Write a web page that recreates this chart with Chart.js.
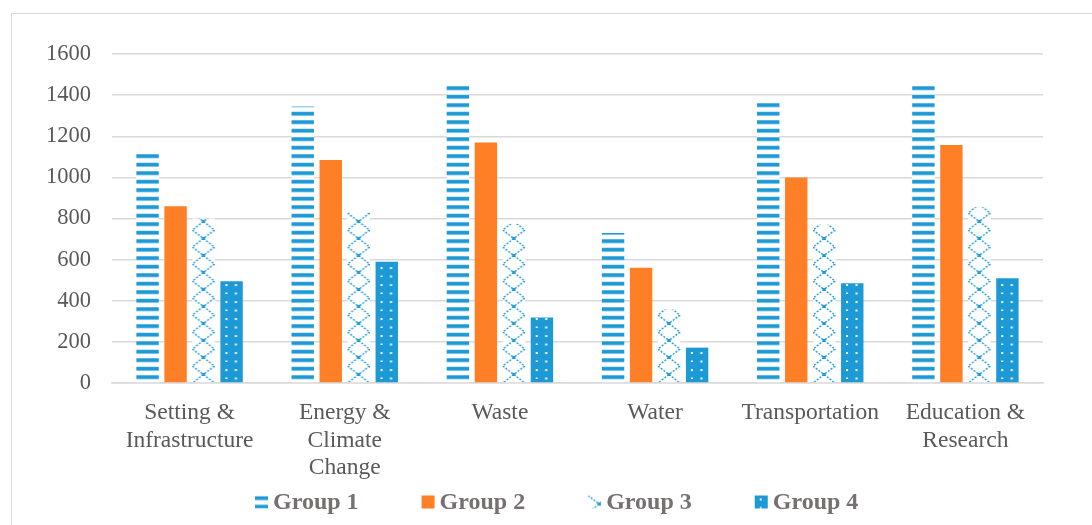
<!DOCTYPE html>
<html>
<head>
<meta charset="utf-8">
<script src="https://cdn.jsdelivr.net/npm/chart.js@4.4.1/dist/chart.umd.min.js"></script>
<style>
  html, body { margin: 0; padding: 0; background: #fff; overflow: hidden; }
  #wrap { position: relative; width: 1092px; height: 525px; }
  #frame { position: absolute; left: 11px; top: 13px; width: 1200px; height: 700px;
           border: 1.5px solid #d9d9d9; box-sizing: border-box; pointer-events: none; }
  canvas { position: absolute; left: 0; top: 0; }
</style>
</head>
<body>
<div id="wrap">
  <div id="frame"></div>
  <canvas id="c" width="1092" height="525"></canvas>
</div>
<script>
// Categories and series values
const categories = [
  ['Setting &', 'Infrastructure'],
  ['Energy &', 'Climate', 'Change'],
  'Waste',
  'Water',
  'Transportation',
  ['Education &', 'Research']
];
const seriesNames = ['Group 1', 'Group 2', 'Group 3', 'Group 4'];
const group1 = [1115, 1345, 1445, 730, 1365, 1445];
const group2 = [860, 1085, 1170, 560, 1000, 1158];
const group3 = [800, 830, 775, 358, 770, 855];
const group4 = [495, 590, 318, 172, 485, 510];
const yTicks = [0, 200, 400, 600, 800, 1000, 1200, 1400, 1600];

const BLUE = '#1d9ad6';
const ORANGE = '#fe7f26';
const SERIF = "'Liberation Serif', 'Times New Roman', serif";
const CAT_PCT = 0.722, BAR_PCT = 0.8;

// --- fill patterns ---
function makeTile(w, h, draw) {
  const c = document.createElement('canvas');
  c.width = w; c.height = h;
  const g = c.getContext('2d');
  draw(g, w, h);
  return g.createPattern(c, 'repeat');
}
// horizontal dashes
const stripeTile = () => makeTile(24, 17, (g) => {
  g.fillStyle = '#fff'; g.fillRect(0, 0, 24, 17);
  g.fillStyle = 'rgba(29,154,214,0.45)';
  g.fillRect(0, 0.5, 24, 4.5); g.fillRect(0, 9, 24, 4.5);
  g.fillStyle = BLUE;
  g.fillRect(0, 1, 24, 3.2); g.fillRect(0, 9.5, 24, 3.2);
});
// zig-zag lattice
const zigTile = () => makeTile(22, 17, (g) => {
  g.fillStyle = '#fff'; g.fillRect(0, 0, 22, 17);
  g.strokeStyle = BLUE; g.lineWidth = 1.4;
  g.setLineDash([2, 1.5]);
  g.beginPath(); g.moveTo(0, 0); g.lineTo(22, 17); g.stroke();
  g.beginPath(); g.moveTo(22, 0); g.lineTo(0, 17); g.stroke();
  g.setLineDash([]);
  g.fillStyle = BLUE;
  g.fillRect(9.5, 7, 3, 3);
});
// dotted solid
const dotTile = () => makeTile(19, 17, (g) => {
  g.fillStyle = BLUE; g.fillRect(0, 0, 19, 17);
  g.fillStyle = '#fff';
  g.fillRect(5, 3, 2, 2); g.fillRect(14.5, 3, 2, 2);
  g.fillRect(5, 11.5, 2, 1.5); g.fillRect(14.5, 11.5, 2, 2);
});
const tileMakers = [stripeTile, null, zigTile, dotTile];

function anchored(dsIndex, x, y) {
  const p = tileMakers[dsIndex]();
  p.setTransform(new DOMMatrix().translateSelf(x, y));
  return p;
}

// pattern anchored to each bar's left edge and baseline
function barFill(dsIndex) {
  return (ctx) => {
    if (ctx.type !== 'data') return tileMakers[dsIndex]();
    const xs = ctx.chart.scales.x, ys = ctx.chart.scales.y;
    if (!xs || !ys) return tileMakers[dsIndex]();
    const catW = (xs.right - xs.left) / categories.length;
    const slot = catW * CAT_PCT / 4;
    const barW = slot * BAR_PCT;
    const cx = xs.getPixelForValue(ctx.dataIndex) + (dsIndex - 1.5) * slot;
    return anchored(dsIndex, cx - barW / 2, ys.getPixelForValue(0));
  };
}

const datasets = [
  { label: seriesNames[0], data: group1, backgroundColor: barFill(0) },
  { label: seriesNames[1], data: group2, backgroundColor: ORANGE },
  { label: seriesNames[2], data: group3, backgroundColor: barFill(2) },
  { label: seriesNames[3], data: group4, backgroundColor: barFill(3) }
];

// legend row under the axis: swatch + bold label per series
const legendRow = {
  id: 'legendRow',
  afterDraw(chart) {
    const g = chart.ctx;
    const box = 13, gap = 5, spacing = 63, cy = 502, center = 557;
    g.save();
    g.font = 'bold 24px ' + SERIF;
    g.textBaseline = 'middle';
    const widths = chart.data.datasets.map(d => g.measureText(d.label).width);
    const total = widths.reduce((a, w) => a + box + gap + w, 0) + spacing * (widths.length - 1);
    let x = Math.round(center - total / 2);
    chart.data.datasets.forEach((d, i) => {
      const top = cy - box / 2;
      g.fillStyle = tileMakers[i] ? anchored(i, x, top) : ORANGE;
      g.fillRect(x, top, box, box);
      g.fillStyle = '#767171';
      g.fillText(d.label, x + box + gap, cy + 1);
      x += box + gap + widths[i] + spacing;
    });
    g.restore();
  }
};

new Chart(document.getElementById('c'), {
  type: 'bar',
  data: { labels: categories, datasets },
  plugins: [legendRow],
  options: {
    responsive: false,
    animation: false,
    events: [],
    layout: { padding: { left: 0, right: 49, top: 54, bottom: 42 } },
    datasets: { bar: { categoryPercentage: CAT_PCT, barPercentage: BAR_PCT, borderWidth: 0 } },
    plugins: {
      tooltip: { enabled: false },
      legend: { display: false }
    },
    scales: {
      x: {
        grid: { display: false, drawTicks: false },
        border: { display: true, color: '#d9d9d9', width: 1.5 },
        ticks: {
          color: '#595959', padding: 16, maxRotation: 0, autoSkip: false,
          font: { family: SERIF, size: 23.5, lineHeight: 1.18 }
        },
        afterFit: (s) => { s.height = 100; }
      },
      y: {
        min: 0, max: 1600,
        afterBuildTicks: (s) => { s.ticks = yTicks.map(v => ({ value: v })); },
        grid: { color: '#d9d9d9', lineWidth: 1.5, drawTicks: false },
        border: { display: false },
        ticks: {
          color: '#595959', padding: 21,
          callback: (v) => String(v),
          font: { family: SERIF, size: 22.5 }
        },
        afterFit: (s) => { s.width = 112; }
      }
    }
  }
});
</script>
</body>
</html>
